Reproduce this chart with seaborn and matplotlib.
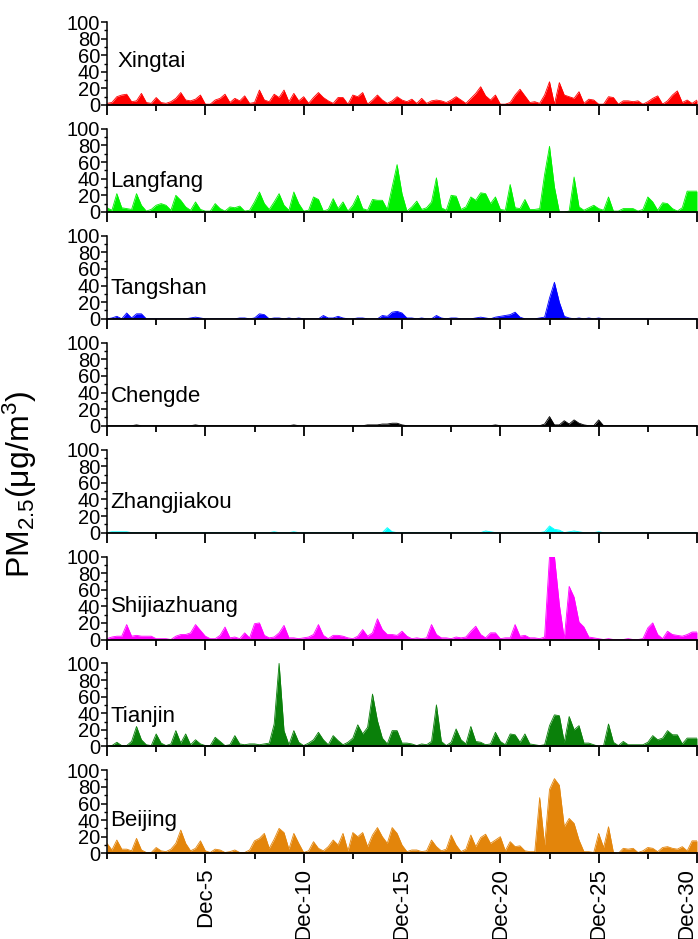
import numpy as np
import pandas as pd
import seaborn as sns
import matplotlib.pyplot as plt
from matplotlib import font_manager
from matplotlib.ticker import MultipleLocator

# Hourly PM2.5 contribution, read at 6-hour steps (4 values per day, Dec-0 .. Dec-30)
stations = ['Xingtai', 'Langfang', 'Tangshan', 'Chengde', 'Zhangjiakou',
            'Shijiazhuang', 'Tianjin', 'Beijing']
colors = ['#FF0000', '#00F000', '#0000FF', '#000000', '#00FFFF',
          '#FF00FF', '#0A800A', '#E3850B']

xingtai = [2, 3, 10, 12, 13, 4, 5, 14, 3, 2, 9, 3, 2, 4, 8, 15, 6, 5, 7, 12,
           1, 1, 6, 8, 13, 3, 8, 5, 11, 2, 3, 18, 6, 4, 13, 9, 18, 4, 14, 5,
           10, 2, 9, 15, 9, 5, 2, 9, 9, 1, 12, 10, 15, 1, 6, 12, 6, 2, 5, 10,
           6, 4, 7, 2, 8, 2, 5, 6, 5, 3, 6, 10, 6, 2, 8, 14, 22, 11, 6, 12,
           1, 1, 3, 12, 19, 11, 3, 4, 2, 12, 28, 1, 27, 12, 10, 8, 16, 2, 7, 6,
           1, 1, 10, 9, 1, 5, 5, 4, 5, 1, 4, 8, 11, 1, 5, 12, 17, 3, 6, 2, 6]
langfang = [5, 2, 22, 5, 4, 3, 22, 8, 1, 3, 8, 10, 8, 2, 20, 14, 6, 2, 12, 3,
            1, 1, 10, 4, 1, 6, 5, 7, 1, 2, 12, 24, 10, 3, 12, 22, 8, 2, 24, 10,
            1, 2, 18, 15, 1, 3, 16, 4, 12, 1, 8, 20, 4, 2, 15, 14, 14, 3, 30, 57,
            22, 1, 6, 13, 3, 5, 12, 41, 5, 2, 20, 19, 3, 6, 18, 14, 23, 22, 10, 18,
            3, 2, 33, 5, 4, 15, 3, 3, 4, 45, 79, 30, 0, 0, 1, 42, 6, 2, 5, 8,
            4, 2, 18, 1, 1, 4, 4, 4, 1, 3, 18, 12, 2, 11, 10, 4, 1, 5, 25, 25, 25]
tangshan = [0, 1, 3, 0, 7, 1, 6, 6, 0, 0, 0, 0, 0, 0, 0, 0, 0, 1, 2, 1,
            0, 0, 0, 0, 0, 0, 0, 1, 1, 0, 1, 6, 5, 0, 1, 1, 0, 1, 0, 1,
            0, 0, 0, 0, 4, 1, 1, 3, 1, 0, 0, 1, 1, 0, 0, 0, 4, 3, 8, 9,
            7, 1, 1, 0, 1, 0, 0, 4, 1, 0, 1, 1, 0, 0, 0, 1, 2, 1, 0, 2,
            3, 4, 5, 8, 2, 0, 0, 0, 1, 2, 25, 44, 20, 3, 1, 0, 1, 0, 1, 0,
            1, 0, 0, 0, 0, 0, 0, 0, 0, 0, 0, 0, 0, 0, 0, 0, 0, 0, 0, 0, 0]
chengde = [0, 0, 0, 0, 0, 0, 1, 0, 0, 0, 0, 0, 0, 0, 0, 0, 0, 0, 1, 0,
           0, 0, 0, 0, 0, 0, 0, 0, 0, 0, 0, 0, 0, 0, 0, 0, 0, 0, 1, 0,
           0, 0, 0, 0, 0, 0, 0, 0, 0, 0, 0, 0, 0, 1, 1, 1, 2, 2, 3, 3,
           1, 0, 0, 0, 0, 0, 0, 0, 0, 0, 0, 0, 0, 0, 0, 0, 0, 0, 0, 1,
           0, 0, 0, 0, 0, 0, 0, 0, 0, 2, 11, 1, 1, 6, 2, 7, 3, 1, 0, 0,
           7, 0, 0, 0, 0, 0, 0, 0, 0, 0, 0, 0, 0, 0, 0, 0, 0, 0, 0, 0, 0]
zhangjiakou = [0, 1, 1, 1, 1, 0, 0, 0, 0, 0, 0, 0, 0, 0, 0, 0, 0, 0, 0, 0,
               0, 0, 0, 0, 0, 0, 0, 0, 0, 0, 0, 0, 0, 0, 1, 0, 0, 0, 1, 0,
               0, 0, 0, 0, 0, 0, 0, 0, 0, 0, 0, 0, 0, 0, 0, 0, 0, 6, 1, 0,
               0, 0, 0, 0, 0, 0, 0, 0, 0, 0, 0, 0, 0, 0, 0, 0, 0, 2, 1, 0,
               0, 0, 0, 0, 0, 0, 0, 0, 0, 1, 8, 4, 3, 0, 1, 2, 1, 0, 0, 0,
               1, 0, 0, 0, 0, 0, 0, 0, 0, 0, 0, 0, 0, 0, 0, 0, 0, 0, 0, 0, 0]
shijiazhuang = [1, 3, 4, 4, 18, 4, 5, 4, 4, 4, 1, 1, 1, 0, 4, 6, 6, 8, 18, 11,
                4, 1, 1, 5, 15, 2, 3, 1, 8, 2, 19, 20, 5, 2, 3, 8, 17, 2, 2, 1,
                2, 3, 6, 18, 5, 1, 5, 5, 4, 2, 1, 4, 12, 4, 8, 25, 12, 6, 6, 5,
                10, 4, 1, 2, 1, 2, 18, 6, 2, 2, 1, 3, 2, 3, 10, 16, 6, 2, 8, 8,
                1, 2, 2, 18, 4, 5, 2, 2, 1, 3, 100, 100, 42, 1, 64, 51, 21, 15, 3, 2,
                1, 0, 1, 0, 0, 0, 1, 0, 0, 1, 14, 20, 6, 1, 10, 6, 5, 4, 6, 9, 9]
tianjin = [0, 1, 5, 1, 1, 6, 24, 8, 2, 1, 15, 4, 1, 3, 19, 4, 15, 2, 8, 3,
           1, 1, 11, 6, 1, 2, 13, 3, 2, 3, 3, 2, 3, 4, 27, 100, 19, 2, 19, 5,
           1, 4, 8, 17, 8, 2, 13, 7, 2, 5, 10, 26, 15, 23, 63, 31, 10, 3, 19, 19,
           4, 4, 3, 1, 3, 2, 6, 50, 6, 1, 5, 21, 8, 3, 24, 6, 5, 2, 3, 17,
           6, 2, 15, 14, 5, 15, 3, 2, 1, 2, 25, 38, 37, 5, 36, 20, 25, 4, 4, 2,
           0, 1, 27, 5, 1, 6, 2, 2, 2, 2, 5, 13, 8, 10, 19, 14, 14, 3, 10, 10, 10]
beijing = [12, 4, 16, 5, 5, 3, 18, 4, 1, 1, 7, 3, 2, 5, 12, 28, 12, 3, 6, 15,
           3, 1, 5, 4, 1, 2, 4, 1, 1, 4, 15, 18, 24, 6, 17, 30, 25, 5, 24, 12,
           1, 3, 14, 6, 3, 8, 16, 10, 24, 3, 25, 20, 25, 8, 22, 31, 20, 12, 31, 24,
           10, 2, 4, 4, 2, 3, 16, 8, 3, 5, 22, 10, 2, 5, 22, 8, 19, 23, 12, 16,
           20, 3, 14, 8, 9, 3, 2, 2, 67, 10, 77, 90, 82, 32, 42, 36, 16, 2, 2, 1,
           24, 7, 32, 1, 0, 6, 5, 6, 1, 3, 7, 6, 2, 7, 8, 6, 5, 8, 3, 15, 15]

series = [xingtai, langfang, tangshan, chengde, zhangjiakou, shijiazhuang, tianjin, beijing]
days = np.arange(len(xingtai)) / 4.0
date_ticks = [5, 10, 15, 20, 25, 30]
date_labels = ['Dec-5', 'Dec-10', 'Dec-15', 'Dec-20', 'Dec-25', 'Dec-30']

sns.set_style("ticks")
plt.rcParams['font.family'] = ['Liberation Sans', 'DejaVu Sans']
plt.rcParams['mathtext.fontset'] = 'custom'
plt.rcParams['mathtext.rm'] = 'Liberation Sans'
plt.rcParams['mathtext.it'] = 'Liberation Sans:italic'
for key in ['text.color', 'axes.edgecolor', 'xtick.color', 'ytick.color', 'axes.labelcolor']:
    plt.rcParams[key] = 'black'

installed = {f.name for f in font_manager.fontManager.ttflist}
narrow = 'Liberation Sans Narrow' if 'Liberation Sans Narrow' in installed else 'Liberation Sans'

fig = plt.figure(figsize=(6.98, 9.39), dpi=100)
W, H = 698.0, 939.0
label_y = [0.52, 0.37, 0.37, 0.35, 0.36, 0.40, 0.36, 0.40]

for i, (name, vals, color) in enumerate(zip(stations, series, colors)):
    base = 105 + i * 106.9
    ax = fig.add_axes([107 / W, 1 - base / H, 590 / W, 83 / H])
    df = pd.DataFrame({'day': days, 'pm': vals})
    sns.lineplot(data=df, x='day', y='pm', ax=ax, color=color, lw=0.6)
    ax.fill_between(df['day'], 0, df['pm'], color=color, lw=0)

    ax.set_xlim(0, 30)
    ax.set_ylim(0, 100)
    ax.set_xlabel('')
    ax.set_ylabel('')
    for side in ['top', 'right']:
        ax.spines[side].set_visible(False)
    ax.spines['left'].set_linewidth(1.1)
    ax.spines['bottom'].set_linewidth(1.3)

    ax.yaxis.set_major_locator(MultipleLocator(20))
    ax.yaxis.set_minor_locator(MultipleLocator(10))
    ax.xaxis.set_major_locator(MultipleLocator(5))
    ax.xaxis.set_minor_locator(MultipleLocator(2.5))
    ax.tick_params(axis='y', which='major', length=4, width=1.1, pad=1, labelsize=14.5)
    ax.tick_params(axis='y', which='minor', length=2.5, width=1.0)
    ax.tick_params(axis='x', which='major', length=7, width=1.3)
    ax.tick_params(axis='x', which='minor', length=4, width=1.3)
    for t in ax.get_yticklabels():
        t.set_fontfamily(narrow)

    if i == len(stations) - 1:
        ax.set_xticks(date_ticks)
        ax.set_xticklabels(date_labels, rotation=90, fontsize=16)
        # keep the last date inside the figure, as in the original
        ax.get_xticklabels()[-1].set_horizontalalignment('right')
    else:
        ax.set_xticklabels([])

    ax.text(0.017 if i == 0 else 0.006, label_y[i], name, transform=ax.transAxes,
            fontsize=16, ha='left', va='center')

fig.text(20 / W, 1 - 484 / H, 'PM$_{2.5}$(μg/m$^3$)', rotation=90,
         ha='center', va='center', fontsize=23)

fig.savefig('out.png', dpi=100)
